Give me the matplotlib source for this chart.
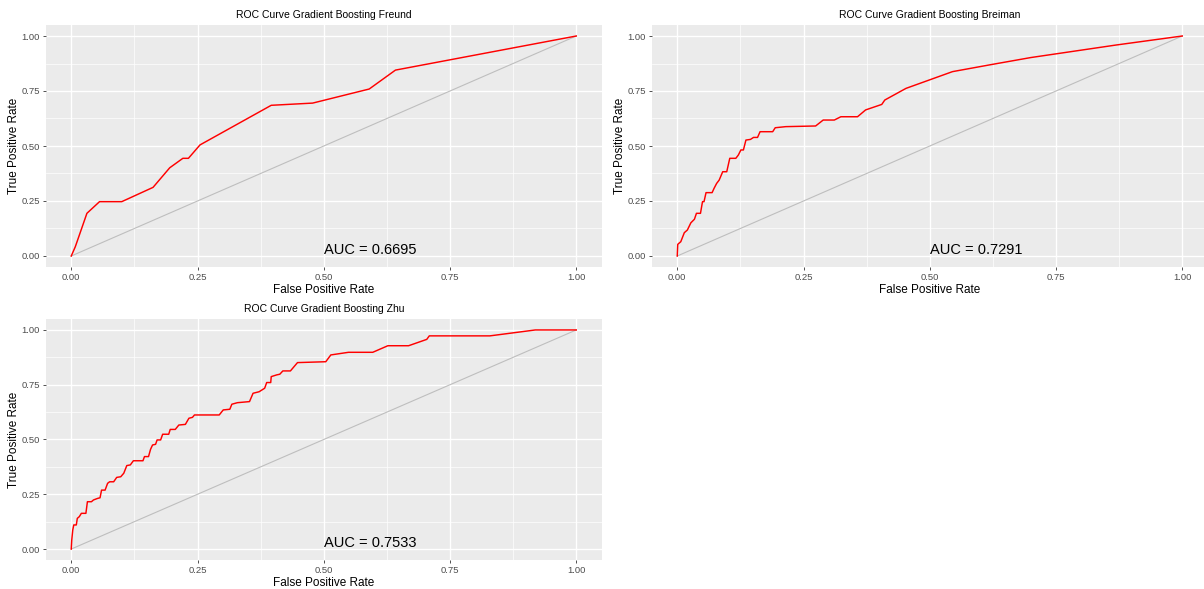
import matplotlib
matplotlib.use("Agg")
import matplotlib.pyplot as plt
import numpy as np

plt.rcParams['font.family'] = ['Liberation Sans', 'DejaVu Sans']

# ---- data ----
freund_fpr = [0.0, 0.008, 0.031, 0.056, 0.100, 0.162, 0.195, 0.221, 0.232, 0.255,
              0.396, 0.478, 0.590, 0.642, 1.0]
freund_tpr = [0.0, 0.042, 0.194, 0.247, 0.247, 0.312, 0.401, 0.444, 0.444, 0.505,
              0.685, 0.695, 0.759, 0.845, 1.0]

breiman_fpr = [0.0, 0.001, 0.007, 0.014, 0.020, 0.027, 0.034, 0.038, 0.046, 0.050,
               0.053, 0.057, 0.069, 0.073, 0.078, 0.083, 0.090, 0.098, 0.104, 0.116,
               0.121, 0.126, 0.131, 0.136, 0.145, 0.151, 0.159, 0.164, 0.189, 0.194,
               0.215, 0.274, 0.289, 0.311, 0.324, 0.357, 0.373, 0.405, 0.411, 0.453,
               0.499, 0.545, 0.624, 0.700, 0.869, 1.0]
breiman_tpr = [0.0, 0.053, 0.065, 0.106, 0.118, 0.151, 0.167, 0.194, 0.194, 0.247,
               0.247, 0.288, 0.288, 0.308, 0.330, 0.345, 0.383, 0.383, 0.444, 0.444,
               0.459, 0.482, 0.482, 0.527, 0.530, 0.539, 0.539, 0.565, 0.565, 0.583,
               0.588, 0.591, 0.618, 0.618, 0.633, 0.633, 0.664, 0.689, 0.709, 0.762,
               0.800, 0.838, 0.871, 0.902, 0.959, 1.0]

zhu_fpr = [0.0, 0.001, 0.003, 0.005, 0.010, 0.012, 0.016, 0.020, 0.029, 0.032,
           0.040, 0.044, 0.052, 0.057, 0.060, 0.067, 0.072, 0.076, 0.084, 0.090,
           0.098, 0.104, 0.110, 0.117, 0.123, 0.142, 0.145, 0.153, 0.157, 0.161,
           0.167, 0.170, 0.177, 0.181, 0.193, 0.196, 0.206, 0.213, 0.226, 0.233,
           0.240, 0.244, 0.293, 0.301, 0.314, 0.318, 0.329, 0.353, 0.360, 0.372,
           0.383, 0.387, 0.395, 0.396, 0.407, 0.413, 0.419, 0.434, 0.448, 0.504,
           0.514, 0.549, 0.597, 0.627, 0.668, 0.704, 0.709, 0.829, 0.919, 1.0]
zhu_tpr = [0.0, 0.041, 0.087, 0.110, 0.110, 0.140, 0.148, 0.163, 0.163, 0.216,
           0.216, 0.224, 0.231, 0.234, 0.269, 0.269, 0.300, 0.307, 0.307, 0.327,
           0.330, 0.346, 0.381, 0.384, 0.403, 0.403, 0.422, 0.422, 0.455, 0.475,
           0.478, 0.498, 0.498, 0.524, 0.524, 0.546, 0.546, 0.566, 0.569, 0.597,
           0.601, 0.612, 0.612, 0.635, 0.638, 0.661, 0.668, 0.673, 0.711, 0.718,
           0.734, 0.760, 0.760, 0.787, 0.795, 0.798, 0.813, 0.813, 0.851, 0.855,
           0.886, 0.898, 0.898, 0.928, 0.928, 0.957, 0.973, 0.973, 1.0, 1.0]

titles = ["ROC Curve Gradient Boosting Freund",
          "ROC Curve Gradient Boosting Breiman",
          "ROC Curve Gradient Boosting Zhu"]
auc_labels = ["AUC = 0.6695", "AUC = 0.7291", "AUC = 0.7533"]
ticks = [0.0, 0.25, 0.5, 0.75, 1.0]
tick_labels = ["0.00", "0.25", "0.50", "0.75", "1.00"]

W, H = 1204, 589
fig = plt.figure(figsize=(W / 100, H / 100), dpi=100)

# panel pixel boxes: left, top, right, bottom
boxes = [(46, 25, 601.5, 267), (652, 25, 1207.5, 267), (46, 319, 601.5, 560)]
series = [(freund_fpr, freund_tpr), (breiman_fpr, breiman_tpr), (zhu_fpr, zhu_tpr)]

for (l, t, r, b), (fx, ty), title, auc in zip(boxes, series, titles, auc_labels):
    ax = fig.add_axes([l / W, 1 - b / H, (r - l) / W, (b - t) / H])
    ax.set_facecolor('#EBEBEB')
    ax.set_xlim(-0.05, 1.05)
    ax.set_ylim(-0.05, 1.05)
    minor = [0.125, 0.375, 0.625, 0.875]
    for m in minor:
        ax.axvline(m, color='white', lw=0.5, zorder=0.5)
        ax.axhline(m, color='white', lw=0.5, zorder=0.5)
    for m in ticks:
        ax.axvline(m, color='white', lw=1.0, zorder=0.6)
        ax.axhline(m, color='white', lw=1.0, zorder=0.6)
    for s in ax.spines.values():
        s.set_visible(False)
    ax.set_xticks(ticks)
    ax.set_xticklabels(tick_labels)
    ax.set_yticks(ticks)
    ax.set_yticklabels(tick_labels)
    ax.tick_params(axis='both', length=2.5, width=0.6, color='#333333',
                   labelcolor='#4D4D4D', labelsize=6.8, pad=2)
    ax.plot([0, 1], [0, 1], color='#BEBEBE', lw=0.8, zorder=2)
    ax.plot(fx, ty, color='red', lw=1.05, zorder=3)
    ax.text(0.5, -0.005, auc, fontsize=10.5, ha='left', va='bottom', color='black', zorder=4)
    ax.set_title(title, fontsize=7.5, pad=5)
    ax.set_xlabel("False Positive Rate", fontsize=8.5, labelpad=1)
    ax.set_ylabel("True Positive Rate", fontsize=8.5, labelpad=1)

fig.savefig("out.png", dpi=100)
